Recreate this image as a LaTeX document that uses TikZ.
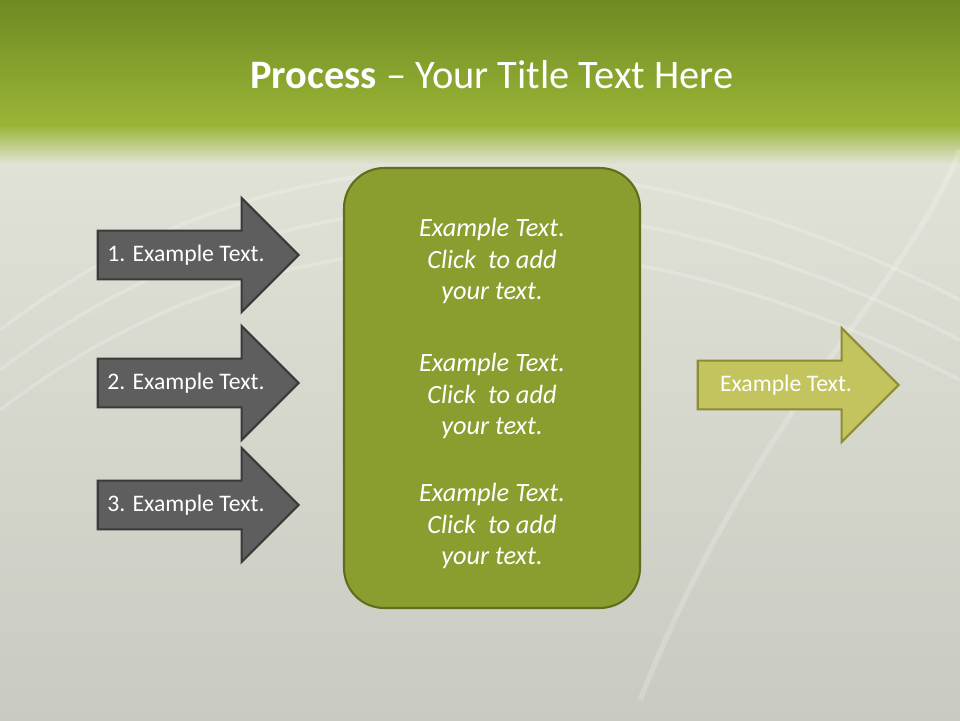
\documentclass[tikz,border=0pt]{standalone}
\usepackage{fontspec}
\setmainfont{Carlito}
\usetikzlibrary{shapes.arrows, positioning}
\definecolor{olivetop}{HTML}{6E8A22}
\definecolor{olivemid}{HTML}{9AB536}
\definecolor{bgrey}{HTML}{C9CAC1}
\definecolor{bpale}{HTML}{E2E4D8}
\definecolor{stepfill}{HTML}{5E5E5E}
\definecolor{stepdraw}{HTML}{3A3A3A}
\definecolor{boxfill}{HTML}{8A9E30}
\definecolor{boxdraw}{HTML}{5F6E1E}
\definecolor{outfill}{HTML}{C4C45E}
\definecolor{outdraw}{HTML}{8C8C32}
\begin{document}
\begin{tikzpicture}[x=0.02cm, y=-0.02cm,
        step/.style={
          single arrow,
          draw=#1,
          line width=1.2pt,
          minimum width=2.28cm,
          minimum height=4.02cm,
          single arrow head extend=0.3cm,
          single arrow tip angle=90,
          inner sep=0pt,
          text=white,
          font=\fontsize{13.5}{16}\selectfont
        },
        box/.style={
          rectangle,
          draw=boxdraw,
          fill=boxfill,
          line width=1.2pt,
          rounded corners=0.8cm,
          minimum width=5.92cm,
          minimum height=8.8cm
        },
        boxtext/.style={
          text=white,
          align=center,
          font=\fontsize{15}{18}\selectfont\itshape
        }
    ]

    % Background
    \useasboundingbox (0,0) rectangle (960,720);
    \shade[top color=bpale, bottom color=bgrey] (0,120) rectangle (960,720);
    \shade[top color=olivetop, bottom color=olivemid] (0,0) rectangle (960,125);
    \shade[top color=olivemid, bottom color=bpale] (0,125) rectangle (960,165);
    \foreach \s in {0,40,80}
      \draw[white, opacity=0.2, line width=2pt]
        (0,330+\s) .. controls (300,100+\s) and (650,140+\s) .. (960,300+\s);
    \draw[white, opacity=0.2, line width=3pt]
      (640,700) .. controls (760,400) and (900,300) .. (960,150);

    % Title
    \node[text=white, font=\fontsize{23}{27}\selectfont] (title) at (492,75)
      {\textbf{Process} -- Your Title Text Here};

    % Steps
    \node[step=stepdraw, fill=stepfill] (stepA) at (186,255) {1. Example Text.};
    \node[step=stepdraw, fill=stepfill] (stepB) at (186,383) {2. Example Text.};
    \node[step=stepdraw, fill=stepfill] (stepC) at (186,505) {3. Example Text.};

    % Centre box
    \node[box] (centre) at (492,388) {};
    \node[boxtext] (textA) at (492,261) {Example Text.\\Click~ to add\\your text.};
    \node[boxtext] (textB) at (492,396) {Example Text.\\Click~ to add\\your text.};
    \node[boxtext] (textC) at (492,526) {Example Text.\\Click~ to add\\your text.};

    % Result
    \node[step=outdraw, fill=outfill] (result) at (786,385) {Example Text.};

\end{tikzpicture}
\end{document}
